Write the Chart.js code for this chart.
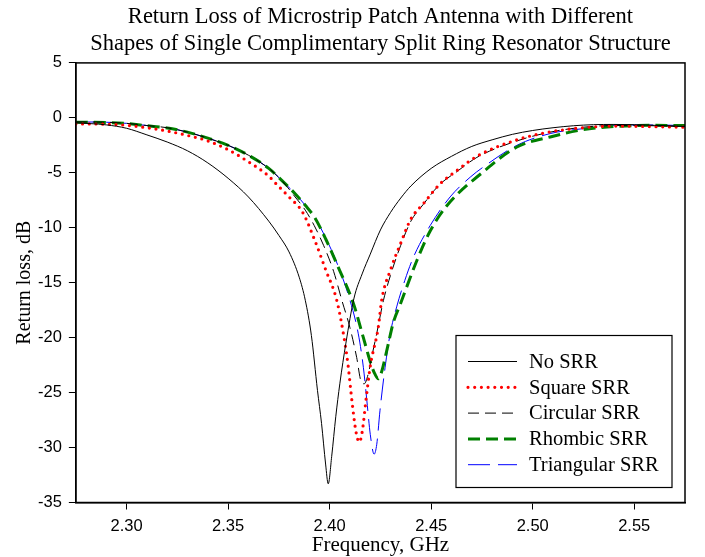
<!DOCTYPE html>
<html>
<head>
<meta charset="utf-8">
<script src="https://cdn.jsdelivr.net/npm/chart.js@4.4.1/dist/chart.umd.min.js"></script>
<style>
  html, body { margin: 0; padding: 0; background: #fff; }
  #wrap { width: 705px; height: 557px; }
</style>
</head>
<body>
<div id="wrap"><canvas id="chart" width="705" height="557"></canvas></div>
<script>
// Series (frequency in GHz, return loss in dB)
const freqNoSrr = [2.275, 2.29, 2.30, 2.31, 2.32, 2.33, 2.34, 2.35, 2.36, 2.37, 2.375, 2.38, 2.385, 2.388, 2.391, 2.394, 2.396, 2.398, 2.3993, 2.401, 2.403, 2.405, 2.408, 2.412, 2.416, 2.42, 2.425, 2.43, 2.435, 2.44, 2.45, 2.46, 2.47, 2.48, 2.49, 2.50, 2.51, 2.52, 2.53, 2.54, 2.55, 2.56, 2.575];
const lossNoSrr = [-0.45, -0.64, -0.95, -1.55, -2.2, -3.0, -4.1, -5.5, -7.2, -9.4, -10.7, -12.2, -14.5, -16.6, -19.8, -24.8, -27.8, -31.5, -33.3, -30.8, -27.2, -24.2, -20.5, -16.4, -14.2, -12.4, -10.2, -8.6, -7.3, -6.2, -4.6, -3.5, -2.6, -2.0, -1.5, -1.15, -0.9, -0.72, -0.62, -0.6, -0.62, -0.68, -0.78];

const freqSquare = [2.275, 2.29, 2.30, 2.31, 2.32, 2.33, 2.34, 2.35, 2.36, 2.37, 2.3736, 2.38, 2.3867, 2.393, 2.398, 2.4035, 2.407, 2.409, 2.411, 2.413, 2.4146, 2.416, 2.418, 2.42, 2.424, 2.4256, 2.43, 2.435, 2.44, 2.4462, 2.4544, 2.4626, 2.4725, 2.4922, 2.5086, 2.525, 2.54, 2.56, 2.575];
const lossSquare = [-0.55, -0.58, -0.68, -0.9, -1.2, -1.6, -2.1, -2.9, -4.0, -5.3, -6.0, -7.2, -8.6, -11.3, -13.8, -16.6, -19.9, -22.4, -25.8, -28.6, -29.5, -28.6, -25.5, -22.6, -19.0, -16.6, -13.8, -11.4, -9.2, -7.8, -6.0, -4.8, -3.5, -2.0, -1.28, -0.9, -0.75, -0.8, -0.85];

const freqCircular = [2.275, 2.29, 2.30, 2.31, 2.32, 2.33, 2.34, 2.35, 2.36, 2.37, 2.3764, 2.383, 2.388, 2.3924, 2.397, 2.402, 2.406, 2.41, 2.4133, 2.4155, 2.417, 2.419, 2.421, 2.4232, 2.4265, 2.43, 2.435, 2.44, 2.446, 2.454, 2.4626, 2.4725, 2.4922, 2.5086, 2.525, 2.54, 2.56, 2.575];
const lossCircular = [-0.37, -0.4, -0.5, -0.7, -0.9, -1.3, -1.85, -2.5, -3.4, -4.6, -5.69, -7.2, -8.4, -9.8, -11.6, -14.0, -16.6, -19.1, -21.8, -24.0, -24.2, -23.3, -21.5, -19.6, -16.6, -14.3, -11.6, -9.4, -7.9, -6.1, -4.9, -3.6, -2.1, -1.3, -0.85, -0.7, -0.72, -0.8];

const freqRhombic = [2.275, 2.29, 2.30, 2.31, 2.32, 2.33, 2.34, 2.35, 2.36, 2.37, 2.3764, 2.383, 2.388, 2.3925, 2.398, 2.404, 2.4117, 2.4166, 2.42, 2.422, 2.424, 2.4256, 2.4281, 2.4314, 2.4347, 2.4429, 2.4495, 2.4577, 2.4757, 2.4922, 2.5086, 2.525, 2.5415, 2.56, 2.575];
const lossRhombic = [-0.4, -0.42, -0.52, -0.72, -0.92, -1.3, -1.85, -2.5, -3.4, -4.6, -5.69, -6.9, -7.96, -9.03, -11.0, -13.5, -16.9, -20.0, -22.2, -23.2, -23.75, -23.1, -21.2, -18.6, -17.0, -13.0, -10.3, -8.0, -4.9, -2.65, -1.74, -1.07, -0.77, -0.68, -0.7];

const freqTriangular = [2.275, 2.29, 2.30, 2.31, 2.32, 2.33, 2.34, 2.35, 2.36, 2.37, 2.3764, 2.383, 2.388, 2.3925, 2.398, 2.404, 2.41, 2.4141, 2.4166, 2.4183, 2.42, 2.4219, 2.4232, 2.4248, 2.4273, 2.4298, 2.433, 2.437, 2.4412, 2.4495, 2.4593, 2.4692, 2.4757, 2.4922, 2.5086, 2.525, 2.5415, 2.56, 2.575];
const lossTriangular = [-0.37, -0.4, -0.5, -0.7, -0.9, -1.3, -1.85, -2.5, -3.4, -4.6, -5.69, -6.9, -7.96, -9.03, -10.9, -13.4, -16.6, -19.65, -22.7, -25.7, -28.8, -30.6, -29.7, -26.6, -22.7, -19.65, -17.2, -14.8, -12.7, -9.8, -7.2, -5.4, -4.47, -2.5, -1.43, -0.98, -0.67, -0.65, -0.7];

const seriesNames = ['No SRR', 'Square SRR', 'Circular SRR', 'Rhombic SRR', 'Triangular SRR'];
const xTickValues = [2.30, 2.35, 2.40, 2.45, 2.50, 2.55];
const titleLines = ['Return Loss of Microstrip Patch Antenna with Different',
                    'Shapes of Single Complimentary Split Ring Resonator Structure'];

function toPoints(xs, ys) {
    return xs.map((x, i) => ({ x: x, y: ys[i] }));
}

const serif = "'Liberation Serif', 'Times New Roman', serif";
const sans = "'Liberation Sans', Arial, sans-serif";

// white background + frame round the plot area
const framePlugin = {
    id: 'frame',
    beforeDraw(chart) {
        const ctx = chart.ctx;
        ctx.save();
        ctx.fillStyle = '#fff';
        ctx.fillRect(0, 0, chart.width, chart.height);
        ctx.restore();
    },
    afterDatasetsDraw(chart) {
        const a = chart.chartArea;
        const ctx = chart.ctx;
        ctx.save();
        ctx.strokeStyle = '#000';
        ctx.lineWidth = 1.5;
        ctx.strokeRect(a.left, a.top, a.right - a.left, a.bottom - a.top);
        ctx.restore();
    }
};

// legend box in the lower right of the plot
const boxLegend = {
    id: 'boxLegend',
    afterDraw(chart) {
        const a = chart.chartArea;
        const ctx = chart.ctx;
        const boxW = 216, boxH = 152;
        const bx = a.right - 13 - boxW;
        const by = a.bottom - 15 - boxH;
        ctx.save();
        ctx.fillStyle = '#fff';
        ctx.fillRect(bx, by, boxW, boxH);
        ctx.strokeStyle = '#000';
        ctx.lineWidth = 1.2;
        ctx.strokeRect(bx, by, boxW, boxH);
        ctx.font = '20.5px ' + serif;
        ctx.textBaseline = 'middle';
        chart.data.datasets.forEach((ds, i) => {
            const y = by + 26 + i * 25.8;
            ctx.beginPath();
            ctx.strokeStyle = ds.borderColor;
            ctx.lineWidth = ds.borderWidth;
            ctx.lineCap = ds.borderCapStyle || 'butt';
            ctx.setLineDash(ds.borderDash || []);
            ctx.moveTo(bx + 12, y);
            ctx.lineTo(bx + 61, y);
            ctx.stroke();
            ctx.setLineDash([]);
            ctx.fillStyle = '#000';
            ctx.fillText(ds.label, bx + 73, y + 1);
        });
        ctx.restore();
    }
};

const ctx = document.getElementById('chart').getContext('2d');
const chart = new Chart(ctx, {
    type: 'line',
    data: {
        datasets: [
            {
                label: seriesNames[0],
                data: toPoints(freqNoSrr, lossNoSrr),
                borderColor: '#000000',
                borderWidth: 1,
            },
            {
                label: seriesNames[1],
                data: toPoints(freqSquare, lossSquare),
                borderColor: '#ff0000',
                borderWidth: 3.2,
                borderDash: [0, 6.7],
                borderCapStyle: 'round',
            },
            {
                label: seriesNames[2],
                data: toPoints(freqCircular, lossCircular),
                borderColor: '#000000',
                borderWidth: 1,
                borderDash: [11, 6],
            },
            {
                label: seriesNames[3],
                data: toPoints(freqRhombic, lossRhombic),
                borderColor: '#008000',
                borderWidth: 3,
                borderDash: [12, 6],
            },
            {
                label: seriesNames[4],
                data: toPoints(freqTriangular, lossTriangular),
                borderColor: '#0000ff',
                borderWidth: 1,
                borderDash: [22, 8],
            },
        ],
    },
    options: {
        responsive: false,
        animation: false,
        devicePixelRatio: 1,
        layout: { padding: { top: 0, right: 20, bottom: 1, left: 7 } },
        elements: {
            point: { radius: 0 },
            line: { cubicInterpolationMode: 'monotone', fill: false },
        },
        plugins: {
            legend: { display: false },
            tooltip: { enabled: false },
            title: {
                display: true,
                fullSize: false,
                text: titleLines,
                color: '#000',
                font: { family: serif, size: 22.5, weight: 'normal', lineHeight: 1.22 },
                padding: { top: 3, bottom: 5 },
            },
        },
        scales: {
            x: {
                type: 'linear',
                min: 2.275,
                max: 2.575,
                afterBuildTicks: (scale) => {
                    scale.ticks = xTickValues.map(v => ({ value: v }));
                },
                grid: { drawOnChartArea: false, drawTicks: true, tickLength: 7, color: '#000', lineWidth: 1 },
                border: { display: true, color: '#000', width: 1.5 },
                ticks: {
                    color: '#000',
                    font: { family: sans, size: 16.5, lineHeight: 1.0 },
                    padding: 9,
                    maxRotation: 0,
                    callback: (v) => Number(v).toFixed(2),
                },
                title: {
                    display: true,
                    text: 'Frequency, GHz',
                    color: '#000',
                    font: { family: serif, size: 21, lineHeight: 1.0 },
                    padding: { top: -9, bottom: 0 },
                },
            },
            y: {
                type: 'linear',
                min: -35,
                max: 5,
                grid: { drawOnChartArea: false, drawTicks: true, tickLength: 7, color: '#000', lineWidth: 1 },
                border: { display: true, color: '#000', width: 1.5 },
                ticks: {
                    stepSize: 5,
                    color: '#000',
                    font: { family: sans, size: 16.5 },
                    padding: 7,
                },
                title: {
                    display: true,
                    text: 'Return loss, dB',
                    color: '#000',
                    font: { family: serif, size: 20 },
                    padding: { top: 6, bottom: -6 },
                },
            },
        },
    },
    plugins: [framePlugin, boxLegend],
});
</script>
</body>
</html>
